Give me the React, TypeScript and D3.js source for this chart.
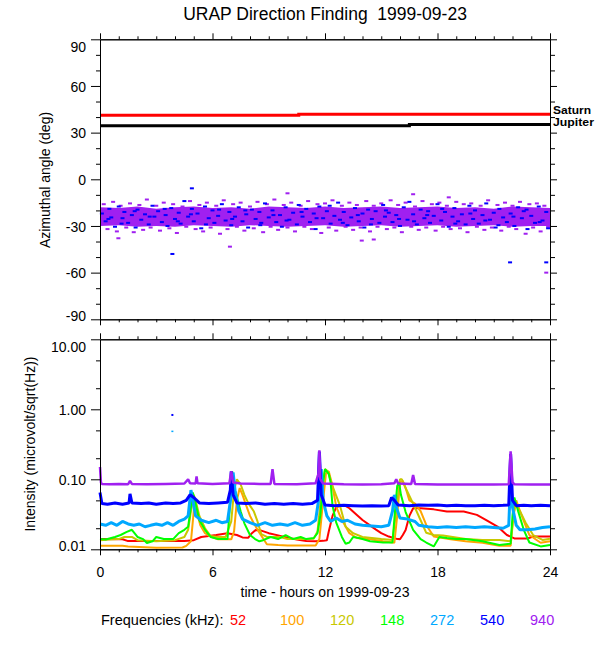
import { useEffect, useRef } from 'react';
import * as d3 from 'd3';

// ---- top panel: planet directions (deg) ----
const saturnHours = [0, 10.6, 24];
const saturnDeg = [41.1, 41.8, 41.8];
const jupiterHours = [0, 16.5, 24];
const jupiterDeg = [34.4, 35.3, 35.3];

// dense part of the direction-finding scatter, hourly
const coreHours = [0, 1, 2, 3, 4, 5, 6, 7, 8, 9, 10, 11, 12, 13, 14, 15, 16, 17, 18, 19, 20, 21, 22, 23, 24];
const coreTop = [-18, -18.5, -17.5, -19, -18, -17.5, -18.5, -18, -19, -17.5, -18, -18.5, -17.5, -18.5, -18, -17.5, -18.5, -18, -17.5, -18.5, -18, -19, -17.5, -18, -18.5];
const coreBottom = [-30, -29.5, -30.5, -30, -30.5, -29.5, -30, -30.5, -29.5, -30, -30.5, -30, -29.5, -30.5, -30, -29.5, -30.5, -30, -29.5, -30.5, -30, -29.5, -30.5, -30, -30];

// blue (540 kHz) hits inside the band
const blueHits: [number, number][] = [
  [0.1, -22], [0.3, -27], [0.5, -19], [0.6, -24.5], [0.8, -30.5], [1.0, -17.5], [1.2, -25], [1.3, -21], [1.5, -28], [1.7, -23],
  [1.9, -31], [2.0, -19.5], [2.2, -26], [2.4, -22.5], [2.6, -29], [2.8, -17], [2.9, -24], [3.1, -20.5], [3.3, -27.5], [3.5, -23],
  [3.6, -30], [3.8, -18.5], [4.0, -25.5], [4.2, -21.5], [4.3, -28.5], [4.5, -14], [4.7, -24], [4.9, -19], [5.0, -27], [5.2, -22],
  [5.4, -31.5], [5.6, -17.5], [5.8, -25], [6.0, -20], [6.1, -28], [6.3, -23.5], [6.5, -16], [6.7, -26.5], [6.9, -21], [7.0, -29.5],
  [7.2, -24], [7.4, -18], [7.6, -27], [7.8, -22.5], [7.9, -31], [8.1, -19.5], [8.3, -25.5], [8.5, -21], [8.6, -28], [8.8, -15.5],
  [9.0, -24.5], [9.2, -20], [9.4, -27.5], [9.6, -23], [9.7, -30.5], [9.9, -18], [10.1, -26], [10.3, -21.5], [10.5, -29], [10.6, -16.5],
  [10.8, -24], [11.0, -19], [11.2, -27.5], [11.4, -22], [11.5, -32], [11.7, -17.5], [11.9, -25], [12.1, -20.5], [12.3, -28.5], [12.5, -23.5],
  [12.7, -15], [12.8, -26], [13.0, -21], [13.2, -29.5], [13.4, -24.5], [13.6, -18.5], [13.8, -27], [14.0, -22], [14.1, -31], [14.3, -19.5],
  [14.5, -25.5], [14.7, -20.5], [14.9, -28], [15.1, -16.5], [15.2, -24], [15.4, -21.5], [15.6, -27.5], [15.8, -23], [16.0, -30], [16.2, -18],
  [16.4, -26], [16.5, -14.5], [16.7, -22.5], [16.9, -29], [17.1, -19.5], [17.3, -25], [17.5, -20.5], [17.6, -28], [17.8, -23.5], [18.0, -16],
  [18.2, -26.5], [18.4, -21], [18.6, -30.5], [18.8, -24], [18.9, -18.5], [19.1, -27], [19.3, -22.5], [19.5, -29], [19.7, -17], [19.9, -25.5],
  [20.0, -20], [20.2, -28.5], [20.4, -23], [20.6, -15.5], [20.8, -26], [21.0, -21.5], [21.1, -31], [21.3, -19], [21.5, -24.5], [21.7, -27.5],
  [21.9, -22], [22.1, -30], [22.3, -18], [22.5, -25], [22.6, -20.5], [22.8, -32], [23.0, -23.5], [23.2, -28], [23.4, -17.5], [23.6, -26.5],
  [23.8, -21], [23.9, -31.5],
  [0.45, -25.5], [1.15, -28.5], [1.85, -20.5], [2.65, -24], [3.45, -19], [4.15, -27], [4.85, -22.5], [5.65, -29], [6.35, -19.5], [7.05, -25.5],
  [7.75, -20], [8.55, -29.5], [9.25, -23], [9.95, -26.5], [10.75, -21], [11.55, -25], [12.25, -17], [12.95, -28], [13.75, -23], [14.45, -29],
  [15.25, -20], [15.95, -25.5], [16.75, -27], [17.45, -23], [18.25, -19], [18.95, -28.5], [19.75, -22], [20.55, -26.5], [21.25, -29.5], [22.05, -24],
  [22.75, -19.5], [23.45, -27.5],
  [4.9, -5.8], [3.86, -48], [21.87, -53.4], [23.8, -53.4],
];

// purple (940 kHz) hits around the dense core
const purpleHits: [number, number][] = [
  [0.2, -16], [0.4, -32], [0.7, -14.5], [0.9, -33.5], [1.1, -17], [1.4, -31], [1.6, -15.5], [1.8, -34], [2.1, -16.5], [2.3, -32.5],
  [2.5, -13], [2.7, -31], [3.0, -17], [3.2, -33], [3.4, -15], [3.7, -31.5], [3.9, -16], [4.1, -34.5], [4.4, -17.5], [4.6, -30.5],
  [4.8, -14], [5.1, -32], [5.3, -16.5], [5.5, -33.5], [5.7, -15], [5.9, -31], [6.2, -17], [6.4, -35], [6.6, -13.5], [6.8, -32],
  [7.1, -16], [7.3, -30.5], [7.5, -15], [7.7, -33], [8.0, -17.5], [8.2, -31.5], [8.4, -14.5], [8.7, -34], [8.9, -16], [9.1, -30.5],
  [9.3, -13], [9.5, -32.5], [9.8, -16.5], [10.0, -31], [10.2, -15], [10.4, -33.5], [10.7, -17], [10.9, -30.5], [11.1, -14], [11.3, -32],
  [11.6, -16], [11.8, -34.5], [12.0, -15.5], [12.2, -31], [12.4, -13.5], [12.6, -33], [12.9, -17], [13.1, -30.5], [13.3, -15], [13.5, -32.5],
  [13.7, -16.5], [13.9, -31], [14.2, -14], [14.4, -33.5], [14.6, -17], [14.8, -30.5], [15.0, -15.5], [15.3, -32], [15.5, -13.5], [15.7, -31],
  [15.9, -16.5], [16.1, -34], [16.3, -15], [16.6, -30.5], [16.8, -17.5], [17.0, -32.5], [17.2, -14], [17.4, -31], [17.7, -16], [17.9, -33],
  [18.1, -15], [18.3, -30.5], [18.5, -17], [18.7, -32], [19.0, -14.5], [19.2, -31.5], [19.4, -16], [19.6, -34], [19.8, -15.5], [20.1, -30.5],
  [20.3, -17], [20.5, -32.5], [20.7, -13.5], [20.9, -31], [21.2, -16.5], [21.4, -33], [21.6, -15], [21.8, -30.5], [22.0, -17], [22.2, -32],
  [22.4, -14.5], [22.7, -35], [22.9, -16], [23.1, -31], [23.3, -15.5], [23.5, -33.5], [23.7, -17], [23.9, -30.5],
  [10.0, -9.0], [6.93, -43.3], [0.98, -37.9], [13.96, -39.4], [14.6, -38.7], [23.8, -60], [16.7, -9.6], [18.6, -11.6],
];

// ---- bottom panel: intensity per frequency (microvolt/sqrt(Hz)) ----
const f52: [number, number][] = [
  [0, 0.014], [1.2, 0.0139], [1.5, 0.0131], [4.5, 0.0131], [5.0, 0.0135], [5.4, 0.015], [6.2, 0.016], [6.8, 0.017], [7.3, 0.016],
  [7.6, 0.0148], [7.9, 0.0146], [8.1, 0.017], [8.3, 0.0188], [8.6, 0.0185], [9.0, 0.017], [9.5, 0.0158], [10.0, 0.0146], [10.5, 0.0138],
  [11.0, 0.0131], [11.5, 0.013], [11.9, 0.0132], [12.1, 0.0135], [12.2, 0.018], [12.4, 0.03], [12.6, 0.04], [13.0, 0.043], [13.3, 0.0386],
  [13.7, 0.031], [14.0, 0.0262], [14.4, 0.022], [14.7, 0.0193], [15.0, 0.017], [15.4, 0.0152], [15.8, 0.0142], [16.0, 0.0139], [16.15, 0.016],
  [16.3, 0.0188], [16.5, 0.03], [16.7, 0.0386], [17.1, 0.0386], [17.8, 0.0372], [18.5, 0.0346], [19.4, 0.0346], [20.1, 0.031], [20.6, 0.0262],
  [21.2, 0.0211], [21.7, 0.016], [22.1, 0.0143], [22.8, 0.0143], [23.1, 0.0152], [24, 0.0152],
];
const f100: [number, number][] = [
  [0, 0.0112], [1.2, 0.0112], [1.5, 0.011], [3.0, 0.0105], [4.4, 0.0106], [4.6, 0.0112], [4.85, 0.013], [4.95, 0.025], [5.05, 0.05],
  [5.15, 0.035], [5.35, 0.022], [5.6, 0.017], [5.9, 0.0152], [6.3, 0.0139], [7.0, 0.0139], [7.15, 0.018], [7.3, 0.05], [7.45, 0.075],
  [7.6, 0.06], [7.8, 0.042], [8.0, 0.03], [8.2, 0.0235], [8.5, 0.0172], [8.9, 0.0118], [9.5, 0.0115], [10.0, 0.0113], [11.5, 0.0113],
  [11.7, 0.014], [11.9, 0.05], [12.05, 0.12], [12.2, 0.13], [12.4, 0.08], [12.6, 0.0406], [12.8, 0.03], [13.0, 0.0235], [13.3, 0.017],
  [13.7, 0.0145], [14.4, 0.0139], [15.1, 0.013], [15.7, 0.0124], [15.85, 0.03], [16.0, 0.09], [16.15, 0.095], [16.3, 0.075], [16.5, 0.05],
  [16.8, 0.045], [17.1, 0.035], [17.4, 0.0223], [17.8, 0.0152], [18.7, 0.0139], [19.5, 0.013], [20.4, 0.0124], [21.3, 0.0112], [21.9, 0.0112],
  [22.05, 0.03], [22.2, 0.05], [22.4, 0.035], [22.6, 0.0255], [22.9, 0.016], [23.5, 0.0124], [24, 0.013],
];
const f120: [number, number][] = [
  [0, 0.0135], [0.5, 0.0138], [1.0, 0.014], [1.3, 0.015], [1.7, 0.015], [2.0, 0.0135], [3.0, 0.013], [4.0, 0.0135], [4.5, 0.015],
  [4.7, 0.019], [4.85, 0.035], [5.0, 0.06], [5.1, 0.05], [5.3, 0.03], [5.6, 0.02], [5.9, 0.0155], [6.3, 0.015], [6.7, 0.015], [7.0, 0.025],
  [7.15, 0.07], [7.3, 0.1], [7.5, 0.085], [7.7, 0.06], [7.9, 0.046], [8.2, 0.035], [8.4, 0.025], [8.6, 0.0165], [8.9, 0.015], [9.6, 0.015],
  [10.0, 0.014], [11.0, 0.014], [11.4, 0.0142], [11.6, 0.018], [11.8, 0.06], [12.0, 0.14], [12.15, 0.13], [12.4, 0.08], [12.8, 0.042],
  [13.1, 0.021], [13.5, 0.017], [14.0, 0.015], [15.0, 0.014], [15.6, 0.0136], [15.8, 0.035], [16.0, 0.1], [16.1, 0.1], [16.3, 0.075],
  [16.7, 0.045], [17.1, 0.026], [17.4, 0.0172], [17.8, 0.016], [18.3, 0.0158], [19.5, 0.014], [20.4, 0.0136], [21.3, 0.0136], [21.9, 0.013],
  [22.05, 0.03], [22.15, 0.045], [22.4, 0.035], [22.7, 0.024], [23.1, 0.016], [23.6, 0.0136], [24, 0.0142],
];
const f148: [number, number][] = [
  [0, 0.014], [0.3, 0.0138], [0.8, 0.015], [1.1, 0.016], [1.4, 0.0176], [1.7, 0.019], [2.0, 0.015], [2.3, 0.014], [2.5, 0.0123],
  [2.8, 0.013], [3.0, 0.015], [3.4, 0.014], [3.9, 0.014], [4.2, 0.017], [4.5, 0.019], [4.7, 0.021], [4.85, 0.04], [4.95, 0.065],
  [5.1, 0.045], [5.3, 0.026], [5.6, 0.019], [5.9, 0.015], [6.3, 0.014], [6.8, 0.014], [6.95, 0.05], [7.05, 0.13], [7.2, 0.07],
  [7.5, 0.035], [7.7, 0.0235], [8.0, 0.016], [8.27, 0.014], [8.5, 0.013], [8.7, 0.0135], [9.1, 0.015], [9.5, 0.014], [9.9, 0.016],
  [10.3, 0.014], [10.7, 0.015], [11.0, 0.014], [11.4, 0.0145], [11.6, 0.017], [11.75, 0.03], [11.9, 0.09], [12.0, 0.14], [12.2, 0.12],
  [12.3, 0.09], [12.4, 0.042], [12.6, 0.024], [12.9, 0.015], [13.1, 0.012], [13.3, 0.0125], [13.5, 0.015], [13.8, 0.0145], [14.0, 0.014],
  [14.4, 0.013], [15.1, 0.0125], [15.6, 0.0125], [15.75, 0.04], [15.85, 0.08], [15.95, 0.09], [16.05, 0.06], [16.3, 0.034], [16.7, 0.019],
  [17.1, 0.014], [17.4, 0.0125], [17.8, 0.011], [18.1, 0.015], [18.5, 0.0145], [19.0, 0.014], [19.5, 0.014], [20.4, 0.013], [21.3, 0.0115],
  [21.9, 0.012], [22.0, 0.03], [22.1, 0.055], [22.3, 0.035], [22.6, 0.019], [22.9, 0.0125], [23.5, 0.011], [24, 0.0115],
];
const f272: [number, number][] = [
  [0, 0.023], [0.3, 0.022], [0.6, 0.024], [0.9, 0.022], [1.2, 0.025], [1.5, 0.023], [1.8, 0.022], [2.1, 0.023], [2.4, 0.021], [2.7, 0.022],
  [3.0, 0.023], [3.3, 0.022], [3.6, 0.024], [3.9, 0.022], [4.2, 0.025], [4.5, 0.027], [4.7, 0.03], [4.85, 0.07], [4.95, 0.05], [5.1, 0.03],
  [5.4, 0.026], [5.8, 0.024], [6.2, 0.026], [6.5, 0.024], [6.8, 0.025], [7.0, 0.06], [7.1, 0.125], [7.2, 0.07], [7.4, 0.035], [7.6, 0.027],
  [8.0, 0.024], [8.4, 0.022], [8.8, 0.024], [9.2, 0.022], [9.6, 0.023], [10.0, 0.022], [10.4, 0.024], [10.8, 0.022], [11.2, 0.023],
  [11.5, 0.026], [11.7, 0.06], [11.8, 0.14], [11.9, 0.05], [12.1, 0.03], [12.3, 0.025], [12.6, 0.028], [12.9, 0.025], [13.2, 0.026],
  [13.6, 0.023], [14.0, 0.022], [14.5, 0.0215], [15.0, 0.021], [15.4, 0.022], [15.6, 0.035], [15.7, 0.06], [15.8, 0.04], [16.0, 0.028],
  [16.4, 0.027], [16.8, 0.025], [17.0, 0.022], [17.5, 0.021], [18.0, 0.0205], [18.5, 0.021], [19.0, 0.0205], [19.5, 0.021], [20.0, 0.0205],
  [20.5, 0.021], [21.0, 0.0205], [21.5, 0.02], [21.8, 0.022], [21.9, 0.1], [22.0, 0.04], [22.2, 0.022], [22.4, 0.019], [22.8, 0.019],
  [23.2, 0.0195], [23.6, 0.0205], [24, 0.021],
];
const f540: [number, number][] = [
  [0, 0.065], [0.1, 0.045], [0.4, 0.044], [0.8, 0.046], [1.2, 0.044], [1.55, 0.046], [1.6, 0.062], [1.7, 0.046], [2.2, 0.045], [2.6, 0.046],
  [3.0, 0.044], [3.5, 0.046], [3.9, 0.045], [4.3, 0.046], [4.6, 0.05], [4.8, 0.06], [5.0, 0.055], [5.3, 0.046], [5.8, 0.045], [6.3, 0.046],
  [6.8, 0.047], [6.95, 0.07], [7.0, 0.13], [7.1, 0.06], [7.3, 0.046], [7.8, 0.045], [8.3, 0.046], [8.8, 0.044], [9.3, 0.045], [9.8, 0.044],
  [10.3, 0.045], [10.8, 0.044], [11.3, 0.045], [11.6, 0.05], [11.7, 0.25], [11.8, 0.06], [12.0, 0.043], [12.5, 0.042], [13.0, 0.0425],
  [13.5, 0.042], [14.0, 0.0415], [14.5, 0.042], [15.0, 0.0415], [15.4, 0.042], [15.55, 0.055], [15.7, 0.05], [15.9, 0.043], [16.5, 0.042],
  [17.0, 0.043], [17.5, 0.0425], [18.0, 0.043], [18.5, 0.042], [19.0, 0.0425], [19.5, 0.042], [20.0, 0.042], [20.5, 0.0425], [21.0, 0.042],
  [21.5, 0.0425], [21.8, 0.043], [21.9, 0.23], [22.0, 0.05], [22.2, 0.042], [22.6, 0.0425], [23.0, 0.042], [23.5, 0.0425], [24, 0.042],
];
const f940: [number, number][] = [
  [0, 0.15], [0.05, 0.09], [0.1, 0.086], [0.5, 0.085], [1.0, 0.086], [1.5, 0.085], [1.6, 0.095], [1.7, 0.086], [2.5, 0.085], [3.5, 0.086],
  [4.5, 0.087], [4.7, 0.1], [4.8, 0.088], [5.1, 0.087], [5.15, 0.11], [5.2, 0.088], [6.0, 0.086], [6.9, 0.088], [7.0, 0.13], [7.1, 0.09],
  [7.5, 0.087], [8.5, 0.086], [9.1, 0.086], [9.2, 0.14], [9.3, 0.086], [10.5, 0.085], [11.5, 0.088], [11.65, 0.12], [11.7, 0.26],
  [11.75, 0.1], [11.9, 0.087], [13, 0.085], [14, 0.084], [15, 0.085], [15.7, 0.088], [15.8, 0.1], [15.9, 0.087], [16.6, 0.086],
  [16.7, 0.115], [16.8, 0.086], [18, 0.084], [19, 0.084], [20, 0.084], [21, 0.084], [21.8, 0.085], [21.9, 0.25], [22.0, 0.09],
  [22.1, 0.085], [23, 0.084], [24, 0.084],
];
// isolated samples
const stray540: [number, number][] = [[3.86, 0.83]];
const stray272: [number, number][] = [[3.86, 0.48]];

const freqLabels = ['52', '100', '120', '148', '272', '540', '940'];
const freqColors = ['#ff0000', '#ffa500', '#c8c800', '#00ff00', '#00a8ff', '#0000ff', '#a020f0'];
const freqSeries = [f52, f100, f120, f148, f272, f540, f940];
const freqWidths = [2, 2, 2, 2, 3, 3, 2.5];

const angleTicks = [90, 60, 30, 0, -30, -60, -90];
const angleMinor = [80, 70, 50, 40, 20, 10, -10, -20, -40, -50, -70, -80];
const intensityTicks = [10, 1, 0.1, 0.01];
const intensityMinor = [5, 2, 0.5, 0.2, 0.05, 0.02];
const hourTicks = [0, 6, 12, 18, 24];
const hourMinor = [1, 2, 3, 4, 5, 7, 8, 9, 10, 11, 13, 14, 15, 16, 17, 19, 20, 21, 22, 23];

const FONT = "'Liberation Sans', Arial, Helvetica, sans-serif";

const App = () => {
  const svgRef = useRef<SVGSVGElement | null>(null);

  useEffect(() => {
    if (!svgRef.current) return;
    const svg = d3.select(svgRef.current);
    svg.selectAll('*').remove();

    const left = 100, right = 550;
    const x = d3.scaleLinear().domain([0, 24]).range([left, right]);
    const yAng = d3.scaleLinear().domain([-90, 90]).range([319.3, 39.3]);
    const yInt = d3.scaleLog().domain([0.01, 10]).range([549.3, 339.3]);

    svg.append('rect').attr('width', 600).attr('height', 650).attr('fill', '#fff');

    // draws a boxed frame with outward ticks on every side
    const frame = (y: any, yMajor: number[], yMinor: number[], fmt: (v: number) => string, xLabels: boolean) => {
      const [y0, y1] = y.range();
      const g = svg.append('g').attr('font-family', FONT).attr('font-size', 14).attr('color', '#000');
      const style = (sel: any) => {
        sel.selectAll('.domain').attr('stroke', '#000');
        sel.selectAll('.tick line').attr('stroke', '#000');
      };
      g.append('g').attr('transform', `translate(0,${y1})`)
        .call(d3.axisTop(x).tickValues(hourTicks).tickSize(6).tickSizeOuter(0).tickFormat(() => '')).call(style);
      g.append('g').attr('transform', `translate(0,${y1})`)
        .call(d3.axisTop(x).tickValues(hourMinor).tickSize(3).tickSizeOuter(0).tickFormat(() => '')).call(style);
      const bottom = g.append('g').attr('transform', `translate(0,${y0})`)
        .call(d3.axisBottom(x).tickValues(hourTicks).tickSize(6).tickSizeOuter(0).tickPadding(12)
          .tickFormat(d => (xLabels ? String(d) : ''))).call(style);
      bottom.selectAll('text').attr('font-size', 14);
      g.append('g').attr('transform', `translate(0,${y0})`)
        .call(d3.axisBottom(x).tickValues(hourMinor).tickSize(3).tickSizeOuter(0).tickFormat(() => '')).call(style);

      const leftAx = g.append('g').attr('transform', `translate(${left},0)`)
        .call(d3.axisLeft(y).tickValues(yMajor).tickSize(9).tickSizeOuter(0).tickPadding(5).tickFormat(fmt as any)).call(style);
      leftAx.selectAll('text').attr('font-size', 14)
        .attr('dy', (d: any) => (Math.abs(y(d) - y1) < 1 ? '0.85em' : Math.abs(y(d) - y0) < 1 ? '0.05em' : '0.36em'));
      g.append('g').attr('transform', `translate(${left},0)`)
        .call(d3.axisLeft(y).tickValues(yMinor).tickSize(4).tickSizeOuter(0).tickFormat(() => '')).call(style);
      g.append('g').attr('transform', `translate(${right},0)`)
        .call(d3.axisRight(y).tickValues(yMajor).tickSize(7).tickSizeOuter(0).tickFormat(() => '')).call(style);
      g.append('g').attr('transform', `translate(${right},0)`)
        .call(d3.axisRight(y).tickValues(yMinor).tickSize(5).tickSizeOuter(0).tickFormat(() => '')).call(style);
    };

    // ---- top panel ----
    const topG = svg.append('g');
    const core = d3.area<number>()
      .x((_, i) => x(coreHours[i]))
      .y0((_, i) => yAng(coreBottom[i]))
      .y1(d => yAng(d));
    topG.append('path').datum(coreTop).attr('d', core).attr('fill', '#a020f0');

    topG.selectAll('rect.ph').data(purpleHits).enter().append('rect')
      .attr('x', d => x(d[0]) - 2).attr('y', d => yAng(d[1]) - 1)
      .attr('width', 4).attr('height', 2).attr('fill', '#a020f0');
    topG.selectAll('rect.bh').data(blueHits).enter().append('rect')
      .attr('x', d => x(d[0]) - 2).attr('y', d => yAng(d[1]) - 1)
      .attr('width', 4).attr('height', 2).attr('fill', '#0000ff');

    const step = (hours: number[]) => d3.line<number>()
      .x((_, i) => x(hours[i])).y(d => yAng(d)).curve(d3.curveStepAfter);
    topG.append('path').datum(saturnDeg).attr('d', step(saturnHours))
      .attr('fill', 'none').attr('stroke', '#ff0000').attr('stroke-width', 3);
    topG.append('path').datum(jupiterDeg).attr('d', step(jupiterHours))
      .attr('fill', 'none').attr('stroke', '#000').attr('stroke-width', 3);

    const planetFont = "'Liberation Sans Narrow', 'Liberation Sans', Arial, sans-serif";
    topG.append('text').attr('x', 553).attr('y', yAng(saturnDeg[2]) - 0.5)
      .attr('font-family', planetFont).attr('font-size', 11).attr('font-weight', 'bold')
      .attr('textLength', 38).attr('lengthAdjust', 'spacingAndGlyphs').text('Saturn');
    topG.append('text').attr('x', 553).attr('y', yAng(jupiterDeg[2]) + 1.8)
      .attr('font-family', planetFont).attr('font-size', 11).attr('font-weight', 'bold')
      .attr('textLength', 41).attr('lengthAdjust', 'spacingAndGlyphs').text('Jupiter');

    frame(yAng, angleTicks, angleMinor, v => String(v), false);

    // ---- bottom panel ----
    const botG = svg.append('g');
    const line = d3.line<[number, number]>().x(d => x(d[0])).y(d => yInt(d[1]));
    freqSeries.forEach((s, i) => {
      botG.append('path').datum(s).attr('d', line)
        .attr('fill', 'none').attr('stroke', freqColors[i]).attr('stroke-width', freqWidths[i])
        .attr('stroke-linejoin', 'bevel');
    });
    botG.selectAll('rect.s540').data(stray540).enter().append('rect')
      .attr('x', d => x(d[0]) - 1).attr('y', d => yInt(d[1]) - 1).attr('width', 2).attr('height', 2).attr('fill', '#0000ff');
    botG.selectAll('rect.s272').data(stray272).enter().append('rect')
      .attr('x', d => x(d[0]) - 1).attr('y', d => yInt(d[1]) - 1).attr('width', 2).attr('height', 1.5).attr('fill', '#00a8ff');

    frame(yInt, intensityTicks, intensityMinor, v => v.toFixed(2), true);

    // ---- titles ----
    svg.append('text').attr('x', 325).attr('y', 20).attr('text-anchor', 'middle')
      .attr('font-family', FONT).attr('font-size', 17.5).style('white-space', 'pre')
      .text('URAP Direction Finding  1999-09-23');
    svg.append('text').attr('transform', 'translate(50,180) rotate(-90)').attr('text-anchor', 'middle')
      .attr('font-family', FONT).attr('font-size', 14).text('Azimuthal angle (deg)');
    svg.append('text').attr('transform', 'translate(35,444) rotate(-90)').attr('text-anchor', 'middle')
      .attr('font-family', FONT).attr('font-size', 14).text('Intensity (microvolt/sqrt(Hz))');
    svg.append('text').attr('x', 325).attr('y', 597).attr('text-anchor', 'middle')
      .attr('font-family', FONT).attr('font-size', 14).text('time - hours on 1999-09-23');

    // ---- frequency legend ----
    const lx = d3.scalePoint<string>().domain(freqLabels).range([230, 530]);
    svg.append('text').attr('x', 101).attr('y', 625)
      .attr('font-family', FONT).attr('font-size', 14.5).text('Frequencies (kHz):');
    svg.selectAll('text.freq').data(freqLabels).enter().append('text')
      .attr('x', d => lx(d) as number).attr('y', 625)
      .attr('font-family', FONT).attr('font-size', 14.5)
      .attr('fill', (_, i) => freqColors[i]).text(d => d);
  }, []);

  return (
    <svg
      ref={svgRef}
      width={600}
      height={650}
      style={{ position: 'absolute', left: 0, top: 0 }}
    />
  );
};

export default App;
